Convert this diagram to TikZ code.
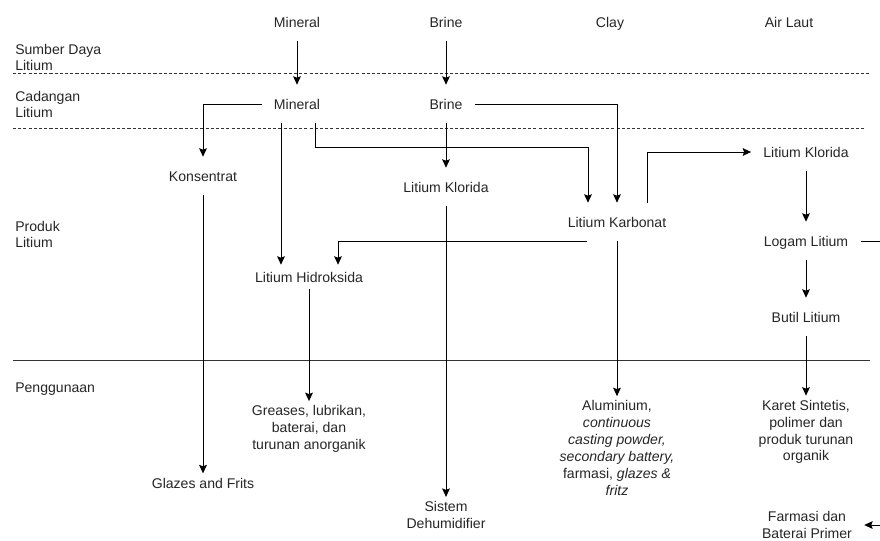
\documentclass[tikz,border=0pt]{standalone}
\usepackage{fontspec}
\setmainfont{Liberation Sans}
\usetikzlibrary{arrows.meta}

\begin{document}
\begin{tikzpicture}[x=0.025cm, y=-0.025cm, text=black!85,
	txt/.style={inner xsep=0.3cm, inner ysep=0pt, minimum height=0.95cm, text height=0.72em, text depth=0pt, font=\fontsize{10}{12}\selectfont},
	multi/.style={inner xsep=0.3cm, inner ysep=3pt, align=center, font=\fontsize{10}{12}\selectfont},
	rowlabel/.style={anchor=west, inner sep=0pt, align=left, font=\fontsize{10}{12}\selectfont},
	arr/.style={draw=black, line width=0.7pt, -{Stealth[length=6pt, width=5.5pt, inset=1pt]}},
	link/.style={draw=black, line width=0.7pt}]
\useasboundingbox (0,0) rectangle (880,540);
\def \leftend {13}
\def \sumbery {73}
\def \cadangany {128}
\def \produky {360}

%Row labels
\node[rowlabel] (sumber) at (15,57.5) {Sumber Daya\\Litium};
\node[rowlabel] (cadangan) at (15,104.5) {Cadangan\\Litium};
\node[rowlabel] (produk) at (15,234.5) {Produk\\Litium};
\node[rowlabel] (guna) at (15,389) {Penggunaan};

%Row separators
\draw[black!80, line width=0.7pt, dash pattern=on 2.2pt off 1.5pt] (\leftend,\sumbery) -- (870,\sumbery);
\draw[black!80, line width=0.7pt, dash pattern=on 2.2pt off 1.5pt] (\leftend,\cadangany) -- (864,\cadangany);
\draw[black!80, line width=0.7pt] (\leftend,\produky) -- (870,\produky);

%Sources
\node[txt] (mineralA) at (297,22) {Mineral};
\node[txt] (brineA) at (446,22) {Brine};
\node[txt] (clay) at (610,22) {Clay};
\node[txt] (airlaut) at (789,22) {Air Laut};

%Reserves
\node[txt] (mineralB) at (297,104) {Mineral};
\node[txt] (brineB) at (446,104) {Brine};

%Products
\node[txt] (konsentrat) at (203,176) {Konsentrat};
\node[txt] (kloridaM) at (446,187) {Litium Klorida};
\node[txt] (karbonat) at (617,222) {Litium Karbonat};
\node[txt] (kloridaR) at (806,152) {Litium Klorida};
\node[txt] (logam) at (806,241) {Logam Litium};
\node[txt, minimum height=0.6cm] (hidroksida) at (309,277) {Litium Hidroksida};
\node[txt] (butil) at (806,317) {Butil Litium};

%Uses
\node[multi] (greases) at (309,429) {Greases, lubrikan,\\baterai, dan\\turunan anorganik};
\node[multi] (aluminium) at (617,448) {Aluminium,\\\textit{continuous}\\\textit{casting powder,}\\\textit{secondary battery,}\\farmasi, \textit{glazes \&}\\\textit{fritz}};
\node[multi] (karet) at (806,432) {Karet Sintetis,\\polimer dan\\produk turunan\\organik};
\node[multi] (glazes) at (203,483) {Glazes and Frits};
\node[multi] (sistem) at (446,515) {Sistem\\Dehumidifier};
\node[multi] (farmasi) at (807,525) {Farmasi dan\\Baterai Primer};

%Free ends at the right border
\coordinate (edgeA) at (880,241);
\coordinate (edgeB) at (880,525);

%Connectors
\draw[arr] (mineralA) -- (mineralB);
\draw[arr] (brineA) -- (brineB);
\draw[arr] (mineralB.west) -| (konsentrat.north);
\draw[arr] ([xshift=-0.4cm]mineralB.south) -- ([xshift=-0.4cm]mineralB.south |- hidroksida.north);
\draw[arr] ([xshift=0.45cm]mineralB.south) -- ++(0,24) -| ([xshift=-0.725cm]karbonat.north);
\draw[arr] (brineB.east) -| (karbonat.north);
\draw[arr] (brineB) -- (kloridaM);
\draw[arr] (kloridaM) -- (sistem);
\draw[arr] (konsentrat) -- (glazes);
\draw[arr] ([xshift=-0.75cm]karbonat.south) -| ([xshift=0.725cm]hidroksida.north);
\draw[arr] (hidroksida) -- (greases);
\draw[arr] (karbonat) -- (aluminium);
\draw[arr] ([xshift=0.75cm]karbonat.north) |- (kloridaR.west);
\draw[arr] (kloridaR) -- (logam);
\draw[arr] (logam) -- (butil);
\draw[arr] (butil) -- (karet);
\draw[link] (logam.east) -- (edgeA);
\draw[arr] (edgeB) -- (farmasi.east);

\end{tikzpicture}
\end{document}
